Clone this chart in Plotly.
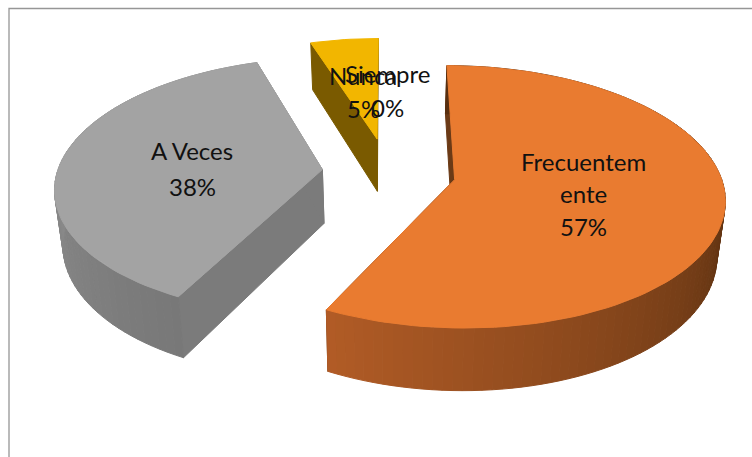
import math
import textwrap
import plotly.graph_objects as go

# --- data ---
categories = ["Siempre", "Nunca", "A Veces", "Frecuentemente"]
values = [0.0, 5.0, 37.51, 57.49]
# order of the slices clockwise from the top
clockwise_order = ["Frecuentemente", "A Veces", "Nunca", "Siempre"]
top_colors = {"Frecuentemente": "#E97B30", "A Veces": "#A3A3A3", "Nunca": "#F2B600", "Siempre": "#5B9BD5"}
cut_colors = {"Frecuentemente": "#6B3A16", "A Veces": "#7B7B7B", "Nunca": "#7A5A00", "Siempre": "#3A6A9A"}
wall_near = {"Frecuentemente": (178, 92, 38), "A Veces": (120, 120, 120)}
wall_far = {"Frecuentemente": (88, 47, 16), "A Veces": (138, 138, 138)}
label_wrap = 10

# --- projection of the exploded 3-D pie ---
CX, CY = 388.0, 172.0
R, K, TILT, DEPTH, SHRINK = 265.0, 0.13, 0.479, 54.0, 0.025
explode = {"Frecuentemente": 68.0, "A Veces": 66.0, "Nunca": 72.0, "Siempre": 66.0}
radius = {"Frecuentemente": 1.0, "A Veces": 1.0, "Nunca": 0.95, "Siempre": 1.0}


def project(name, theta, rho, bis, down=False):
    e = explode[name]
    r = rho * radius[name] * R
    X = e * math.sin(bis) + r * math.sin(theta)
    Z = -e * math.cos(bis) - r * math.cos(theta)
    w = 1.0 / (1.0 - K * Z / R)
    x = X * w
    y = TILT * Z * w
    if down:
        x *= 1 - SHRINK
        y += DEPTH * w
    return CX + x, CY + y


def poly(points, color):
    return go.Scatter(
        x=[p[0] for p in points] + [points[0][0]],
        y=[p[1] for p in points] + [points[0][1]],
        mode="lines", fill="toself", fillcolor=color,
        line=dict(color=color, width=1), hoverinfo="skip", showlegend=False,
    )


total = sum(values)
vals = dict(zip(categories, values))
walls, tops = [], []
start = 0.0
spans = {}
for name in clockwise_order:
    sweep = 2 * math.pi * vals[name] / total
    spans[name] = (start, start + sweep)
    start += sweep

for name in clockwise_order:
    a0, a1 = spans[name]
    if a1 <= a0:
        continue
    bis = (a0 + a1) / 2
    n = max(12, int((a1 - a0) * 30))
    thetas = [a0 + (a1 - a0) * i / n for i in range(n + 1)]
    # straight cut faces
    for edge in (a0, a1):
        walls.append(poly([project(name, edge, 1, bis), project(name, 0, 0, bis),
                           project(name, 0, 0, bis, True), project(name, edge, 1, bis, True)],
                          cut_colors[name]))
    # outer wall, shaded by its position along the arc
    if name in wall_near:
        for i in range(n):
            th = thetas[i]
            if name == "Frecuentemente":
                t = min(1.0, max(0.0, (a1 - th) / (a1 - math.pi / 2)))
            else:
                t = min(1.0, max(0.0, (th - a0) / (1.5 * math.pi - a0)))
            c = [round(wall_near[name][j] * (1 - t) + wall_far[name][j] * t) for j in range(3)]
            walls.append(poly([project(name, thetas[i], 1, bis), project(name, thetas[i + 1], 1, bis),
                               project(name, thetas[i + 1], 1, bis, True), project(name, thetas[i], 1, bis, True)],
                              f"rgb({c[0]},{c[1]},{c[2]})"))
    tops.append(poly([project(name, 0, 0, bis)] + [project(name, t, 1, bis) for t in thetas], top_colors[name]))

fig = go.Figure(walls + tops)

# label anchors on the canvas: x centre, first-line y, line step
label_pos = {
    "A Veces": (192, 150, 36),
    "Frecuentemente": (583, 161, 32.5),
    "Nunca": (363, 75, 33.5),
    "Siempre": (387, 73, 34),
}
annotations = []
for name in categories:
    lines = textwrap.wrap(name, label_wrap, break_long_words=True) + [f"{round(vals[name])}%"]
    x, y, step = label_pos[name]
    for i, line in enumerate(lines):
        annotations.append(dict(x=x, y=y + i * step, text=line, showarrow=False, xref="x", yref="y",
                                xanchor="center", yanchor="middle",
                                font=dict(family="Lato", size=24, color="#111111")))

fig.update_layout(
    width=752, height=457, autosize=False,
    margin=dict(l=0, r=0, t=0, b=0),
    paper_bgcolor="white", plot_bgcolor="white", showlegend=False,
    xaxis=dict(range=[0, 752], visible=False, fixedrange=True),
    yaxis=dict(range=[457, 0], visible=False, fixedrange=True),
    annotations=annotations,
    shapes=[dict(type="path", path="M 9 457 L 9 8.5 L 752 8.5", xref="x", yref="y",
                 line=dict(color="#969696", width=1.3))],
)
fig.write_html("out.html", config={"displayModeBar": False},
               post_script="document.body.style.margin='0';document.body.style.overflow='hidden';")
